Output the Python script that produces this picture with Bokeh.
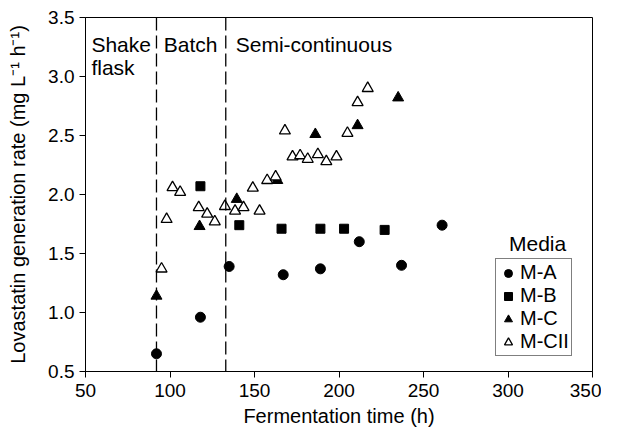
from bokeh.plotting import figure
from bokeh.models import (Range1d, SingleIntervalTicker, Span, Label, Legend, LegendItem,
                          NumeralTickFormatter)
from bokeh.embed import file_html
from bokeh.resources import INLINE

# ---- data ----
ma_x = [92, 118, 135, 167, 189, 212, 237, 261]
ma_y = [0.65, 0.96, 1.39, 1.32, 1.37, 1.60, 1.40, 1.74]

mb_x = [118, 141, 166, 189, 203, 227]
mb_y = [2.07, 1.74, 1.71, 1.71, 1.71, 1.70]

mc_x = [92, 117.5, 139.5, 163.5, 186, 211, 235]
mc_y = [1.14, 1.73, 1.96, 2.12, 2.51, 2.585, 2.82]

mcii_x = [95, 98, 101.5, 106, 117, 122, 126.5, 132.5, 138.5, 143.5, 149, 153,
          157.5, 162.5, 168, 172.5, 177, 181.5, 187.5, 192.5, 198.5, 205, 211, 217]
mcii_y = [1.37, 1.79, 2.06, 2.02, 1.89, 1.835, 1.77, 1.90, 1.86, 1.89, 2.055, 1.86,
          2.12, 2.15, 2.54, 2.32, 2.33, 2.30, 2.34, 2.28, 2.32, 2.52, 2.78, 2.90]

phase_bounds = [92, 133]
phase_names = ["Shake", "flask", "Batch", "Semi-continuous"]
series_names = ["M-A", "M-B", "M-C", "M-CII"]
legend_title = "Media"

FONT = "Liberation Sans"

p = figure(width=601, height=429, output_backend="svg", toolbar_location=None,
           x_range=Range1d(50, 350), y_range=Range1d(0.5, 3.5),
           min_border_left=85, min_border_right=9, min_border_top=17, min_border_bottom=57)

p.xgrid.visible = False
p.ygrid.visible = False
p.outline_line_color = "black"
p.outline_line_width = 1
p.background_fill_color = "white"
p.border_fill_color = "white"

p.xaxis.ticker = SingleIntervalTicker(interval=50)
p.yaxis.ticker = SingleIntervalTicker(interval=0.5)
p.yaxis.formatter = NumeralTickFormatter(format="0.0")
for ax in (p.xaxis[0], p.yaxis[0]):
    ax.axis_line_color = "black"
    ax.major_tick_line_color = "black"
    ax.major_tick_out = 6
    ax.major_tick_in = 0
    ax.minor_tick_line_color = None
    ax.major_label_text_font = FONT
    ax.major_label_text_font_size = "19px"
    ax.major_label_text_color = "black"
    ax.axis_label_text_font = FONT
    ax.axis_label_text_font_size = "20px"
    ax.axis_label_text_font_style = "normal"
    ax.axis_label_text_color = "black"

p.xaxis.axis_label = "Fermentation time (h)"
p.yaxis.axis_label = "Lovastatin generation rate (mg L\u207b\u00b9 h\u207b\u00b9)"
p.xaxis.major_label_standoff = 6
p.yaxis.major_label_standoff = 5
p.xaxis.axis_label_standoff = 5
p.yaxis.axis_label_standoff = 16

for b in phase_bounds:
    p.add_layout(Span(location=b, dimension="height", line_color="black",
                      line_width=1.3, line_dash="13 5"))

lab_kw = dict(text_font=FONT, text_font_size="21px", text_color="black",
              text_baseline="alphabetic")
p.add_layout(Label(x=53.5, y=3.27, text=phase_names[0], **lab_kw))
p.add_layout(Label(x=53.5, y=3.075, text=phase_names[1], **lab_kw))
p.add_layout(Label(x=96.3, y=3.27, text=phase_names[2], **lab_kw))
p.add_layout(Label(x=138.9, y=3.27, text=phase_names[3], **lab_kw))

r_a = p.scatter(ma_x, ma_y, marker="circle", size=10, fill_color="black", line_color="black")
r_b = p.scatter(mb_x, mb_y, marker="square", size=9, fill_color="black", line_color="black")
r_c = p.scatter(mc_x, mc_y, marker="triangle", size=11, fill_color="black", line_color="black")
r_d = p.scatter(mcii_x, mcii_y, marker="triangle", size=11, fill_color="white",
                line_color="black", line_width=1.3)

legend = Legend(items=[LegendItem(label=n, renderers=[r]) for n, r in
                       zip(series_names, [r_a, r_b, r_c, r_d])],
                location=(410, 15), border_line_color="black", border_line_width=1,
                background_fill_alpha=1, padding=2, spacing=0, margin=0,
                glyph_width=20, glyph_height=22, label_height=22, label_standoff=2,
                label_text_font=FONT, label_text_font_size="20px", label_text_color="black")
p.add_layout(legend)
p.add_layout(Label(x=317.5, y=1.585, text=legend_title,
                   text_font=FONT, text_font_size="21px", text_color="black",
                   text_align="center", text_baseline="alphabetic"))

open("out.html", "w").write(file_html(p, INLINE))
